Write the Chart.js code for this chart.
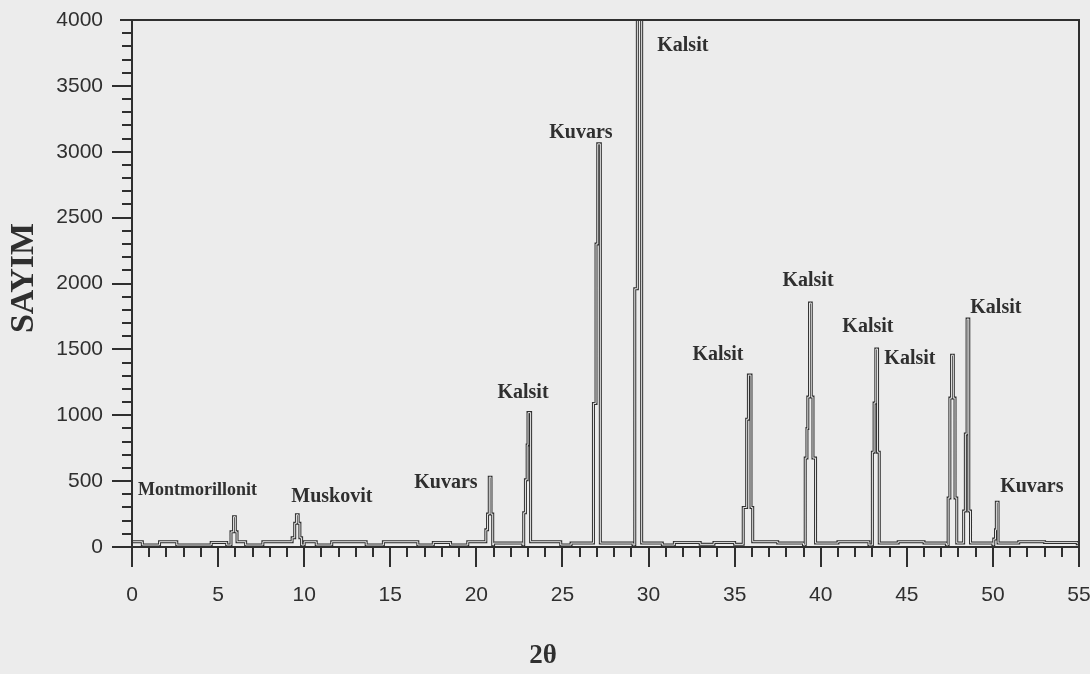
<!DOCTYPE html>
<html>
<head>
<meta charset="utf-8">
<script src="https://cdn.jsdelivr.net/npm/chart.js@4.4.1/dist/chart.umd.min.js"></script>
<style>
	html, body { margin: 0; padding: 0; background: #ececec; }
	#wrap { width: 1090px; height: 674px; }
</style>
</head>
<body>
<div id="wrap"><canvas id="xrd" width="1090" height="674"></canvas></div>
<script>
// 2-theta breakpoints of the stepped trace (each value holds until the next breakpoint)
const twoTheta = [
	0.0, 0.6, 1.6, 2.6, 4.6, 5.5, 5.75, 5.9, 6.0, 6.1, 6.6, 7.6,
	9.3, 9.45, 9.55, 9.65, 9.75, 9.85, 10.0, 10.7, 11.6, 13.6, 14.6, 16.6,
	17.5, 18.5, 19.5, 20.55, 20.65, 20.75, 20.85, 20.95, 21.0, 22.7,
	22.75, 22.85, 22.95, 23.0, 23.15, 24.9, 25.5,
	26.8, 26.95, 27.05, 27.2, 29.1, 29.2, 29.35, 29.6,
	30.8, 31.5, 33.0, 33.8, 35.0,
	35.5, 35.7, 35.8, 35.95, 36.05, 37.5, 39.0,
	39.1, 39.2, 39.25, 39.35, 39.45, 39.55, 39.7, 41.0, 42.8,
	43.0, 43.1, 43.2, 43.3, 43.4, 44.5, 46.0, 47.3,
	47.4, 47.5, 47.6, 47.7, 47.8, 47.9, 48.3, 48.4, 48.5, 48.6, 48.7, 50.0,
	50.05, 50.15, 50.2, 50.3, 51.5, 53.0, 54.9, 55.0
];
const counts = [
	40, 15, 40, 15, 35, 15, 115, 230, 115, 40, 15, 40,
	70, 180, 245, 180, 70, 15, 40, 15, 40, 15, 40, 15,
	35, 15, 40, 130, 250, 530, 250, 15, 30, 15,
	260, 510, 775, 1020, 40, 15, 30,
	1090, 2300, 3060, 30, 15, 1960, 4300, 30,
	15, 35, 20, 35, 20,
	300, 970, 1305, 300, 40, 30, 15,
	675, 900, 1138, 1852, 1138, 675, 30, 40, 15,
	720, 1093, 1503, 720, 30, 40, 30, 15,
	372, 1130, 1456, 1130, 372, 30, 273, 858, 1730, 273, 30, 15,
	60, 130, 340, 30, 40, 35, 25, 25
];

// peak annotations
const peakNames = ["Montmorillonit", "Muskovit", "Kuvars", "Kalsit", "Kuvars", "Kalsit",
	"Kalsit", "Kalsit", "Kalsit", "Kalsit", "Kalsit", "Kuvars"];
const peakLabelX = [3.8, 11.61, 18.23, 22.71, 26.07, 31.99, 34.03, 39.26, 42.74, 45.18, 50.17, 52.26];
const peakLabelY = [431, 379, 486, 1169, 3142, 3803, 1457, 2019, 1670, 1427, 1814, 455];

const INK = "#2f2f2f";
const PAPER = "#ececec";

const trace = twoTheta.map((t, i) => ({ x: t, y: counts[i] }));

// paper background, frame, hand drawn ticks and peak names
const xrdFrame = {
	id: "xrdFrame",
	beforeDraw(chart) {
		const { ctx, width, height } = chart;
		ctx.save();
		ctx.fillStyle = PAPER;
		ctx.fillRect(0, 0, width, height);
		ctx.restore();
	},
	afterDatasetsDraw(chart) {
		const { ctx, chartArea: a, scales } = chart;
		const sx = scales.x, sy = scales.y;
		ctx.save();
		ctx.strokeStyle = INK;
		ctx.lineWidth = 2;
		ctx.beginPath();
		ctx.moveTo(a.left - 12, a.top);
		ctx.lineTo(a.right, a.top);
		ctx.lineTo(a.right, a.bottom);
		ctx.moveTo(a.left, a.top);
		ctx.lineTo(a.left, a.bottom + 20);
		ctx.moveTo(a.left - 20, a.bottom);
		ctx.lineTo(a.right, a.bottom);
		for (let v = 0; v <= 55; v++) {
			const px = Math.round(sx.getPixelForValue(v));
			ctx.moveTo(px, a.bottom);
			ctx.lineTo(px, a.bottom + (v % 5 ? 10 : 20));
		}
		for (let v = 100; v < 4000; v += 100) {
			const py = Math.round(sy.getPixelForValue(v));
			ctx.moveTo(a.left, py);
			ctx.lineTo(a.left - (v % 500 ? 10 : 20), py);
		}
		ctx.stroke();

		ctx.fillStyle = INK;
		ctx.textAlign = "center";
		ctx.textBaseline = "middle";
		peakNames.forEach((name, i) => {
			// the long name is set a bit tighter in the original
			ctx.font = name.length > 10 ? "bold 18px 'Liberation Serif'" : "bold 20px 'Liberation Serif'";
			ctx.fillText(name, sx.getPixelForValue(peakLabelX[i]), sy.getPixelForValue(peakLabelY[i]));
		});

		ctx.font = "bold 27px 'Liberation Serif'";
		ctx.fillText("2θ", 543, 656);

		ctx.translate(24, 278);
		ctx.rotate(-Math.PI / 2);
		ctx.font = "bold 34px 'Liberation Serif'";
		ctx.fillText("SAYIM", 0, 0);
		ctx.restore();
	},
};

new Chart(document.getElementById("xrd"), {
	type: "line",
	data: {
		datasets: [
			{
				data: trace,
				borderColor: PAPER,
				borderWidth: 1,
				stepped: "before",
				pointRadius: 0,
				order: 0,
			},
			{
				data: trace,
				borderColor: INK,
				borderWidth: 3,
				stepped: "before",
				pointRadius: 0,
				order: 1,
			},
		],
	},
	options: {
		responsive: false,
		animation: false,
		devicePixelRatio: 1,
		layout: { padding: { top: 20, right: 11, left: 0, bottom: 0 } },
		scales: {
			x: {
				type: "linear",
				min: 0,
				max: 55,
				afterFit: (s) => {
					s.height = 127;
					s.paddingLeft = 0;
					s.paddingRight = 0;
				},
				grid: { display: false, drawTicks: false },
				border: { display: false },
				ticks: {
					stepSize: 5,
					maxRotation: 0,
					padding: 36,
					color: INK,
					font: { family: "'Liberation Sans'", size: 21 },
					callback: (v) => String(v),
				},
			},
			y: {
				min: 0,
				max: 4000,
				afterFit: (s) => {
					s.width = 132;
					s.paddingTop = 0;
					s.paddingBottom = 0;
				},
				grid: { display: false, drawTicks: false },
				border: { display: false },
				ticks: {
					stepSize: 500,
					padding: 29,
					color: INK,
					font: { family: "'Liberation Sans'", size: 21 },
					callback: (v) => String(v),
				},
			},
		},
		plugins: {
			legend: { display: false },
			tooltip: { enabled: false },
		},
	},
	plugins: [xrdFrame],
});
</script>
</body>
</html>
